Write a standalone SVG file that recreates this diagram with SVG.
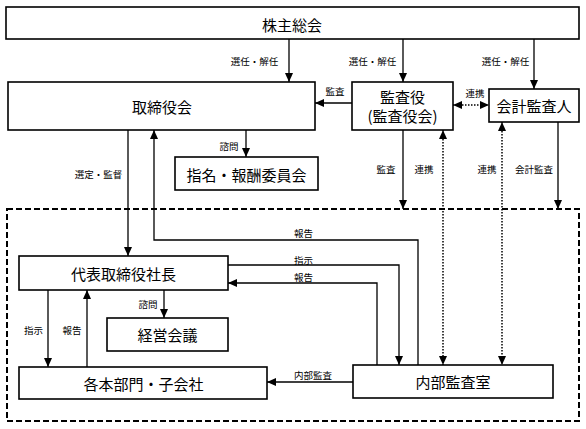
<svg xmlns="http://www.w3.org/2000/svg" width="586" height="429" viewBox="0 0 586 429">
<defs>
<marker id="ah" markerUnits="userSpaceOnUse" markerWidth="10" markerHeight="10" viewBox="0 0 10 10" refX="9" refY="5" orient="auto">
<path d="M0,1 L9,5 L0,9 Z" fill="#000"/>
</marker>
<marker id="ahs" markerUnits="userSpaceOnUse" markerWidth="10" markerHeight="10" viewBox="0 0 10 10" refX="1" refY="5" orient="auto">
<path d="M10,1 L1,5 L10,9 Z" fill="#000"/>
</marker>
</defs>
<style>
.box{fill:#fff;stroke:#000;stroke-width:1.6}
.nt{font-family:"Noto Sans CJK JP","Noto Sans",sans-serif;font-size:15px;fill:#000;text-anchor:middle;dominant-baseline:central}
.lb{font-family:"Noto Sans CJK JP","Noto Sans",sans-serif;font-size:9.5px;fill:#000;text-anchor:middle;dominant-baseline:central}
.c{fill:none;stroke:#000;stroke-width:1.3}
.d{fill:none;stroke:#000;stroke-width:1.5;stroke-dasharray:1.5,1.5}
</style>
<rect width="586" height="429" fill="#fff"/>
<rect x="7" y="209" width="572" height="212" fill="none" stroke="#000" stroke-width="2" stroke-dasharray="6,3"/>
<g id="connectors">
<path class="c" d="M289,39 V82" marker-end="url(#ah)"/>
<path class="c" d="M403,39 V82" marker-end="url(#ah)"/>
<path class="c" d="M534,39 V89" marker-end="url(#ah)"/>
<path class="c" d="M352,103 H315" marker-end="url(#ah)"/>
<path class="d" d="M453,105 H489" marker-start="url(#ahs)" marker-end="url(#ah)"/>
<path class="c" d="M246,130 V157" marker-end="url(#ah)"/>
<path class="c" d="M128,130 V256" marker-end="url(#ah)"/>
<path class="c" stroke-width="1" d="M418,365 V240 H154 V130" marker-end="url(#ah)"/>
<path class="c" d="M403,130 V209" marker-end="url(#ah)"/>
<path class="d" d="M443,130 V365" marker-start="url(#ahs)" marker-end="url(#ah)"/>
<path class="d" d="M502,122 V365" marker-start="url(#ahs)" marker-end="url(#ah)"/>
<path class="c" d="M558,122 V209" marker-end="url(#ah)"/>
<path class="c" d="M228,265 H399 V365" marker-end="url(#ah)"/>
<path class="c" stroke-width="2" d="M377,365 V283 H228" marker-end="url(#ah)"/>
<path class="c" d="M353,382 H267" marker-end="url(#ah)"/>
<path class="c" d="M164,290 V318" marker-end="url(#ah)"/>
<path class="c" d="M48,290 V367" marker-end="url(#ah)"/>
<path class="c" d="M87,367 V290" marker-end="url(#ah)"/>
<text class="lb" x="254.5" y="61">選任・解任</text>
<text class="lb" x="372.5" y="61">選任・解任</text>
<text class="lb" x="505.5" y="61">選任・解任</text>
<text class="lb" x="335" y="91">監査</text>
<text class="lb" x="475" y="92.5">連携</text>
<text class="lb" x="229" y="146">諮問</text>
<text class="lb" x="98.5" y="174">選定・監督</text>
<text class="lb" x="386" y="169">監査</text>
<text class="lb" x="424" y="169">連携</text>
<text class="lb" x="487" y="169">連携</text>
<text class="lb" x="534" y="169">会計監査</text>
<text class="lb" x="303.5" y="233">報告</text>
<text class="lb" x="303.5" y="259.5">指示</text>
<text class="lb" x="303.5" y="276.5">報告</text>
<text class="lb" x="313" y="375">内部監査</text>
<text class="lb" x="148" y="304">諮問</text>
<text class="lb" x="33.5" y="330">指示</text>
<text class="lb" x="72" y="330">報告</text>
</g>
<g id="kabunushi"><rect class="box" x="6" y="7" width="573" height="32"/><text class="nt" x="292" y="24">株主総会</text></g>
<g id="torishimariyakukai"><rect class="box" x="8" y="82" width="307" height="48"/><text class="nt" x="162" y="106.5">取締役会</text></g>
<g id="kansayaku"><rect class="box" x="352" y="82" width="101" height="48"/><text class="nt" x="402.5" y="96.5">監査役</text><text class="nt" x="402.5" y="115.5">(監査役会)</text></g>
<g id="kaikeikansanin"><rect class="box" x="489" y="89" width="90" height="33"/><text class="nt" x="534" y="105.5">会計監査人</text></g>
<g id="shimei"><rect class="box" x="175" y="157" width="143" height="33"/><text class="nt" x="246.5" y="174">指名・報酬委員会</text></g>
<g id="shacho"><rect class="box" x="19" y="256" width="209" height="34"/><text class="nt" x="123.5" y="273">代表取締役社長</text></g>
<g id="keiei"><rect class="box" x="107" y="318" width="121" height="33"/><text class="nt" x="167.5" y="334.5">経営会議</text></g>
<g id="kakuhonbu"><rect class="box" x="19" y="367" width="248" height="32"/><text class="nt" x="143.5" y="383.5">各本部門・子会社</text></g>
<g id="naibukansa"><rect class="box" x="353" y="365" width="200" height="33"/><text class="nt" x="453" y="381.5">内部監査室</text></g>
</svg>
